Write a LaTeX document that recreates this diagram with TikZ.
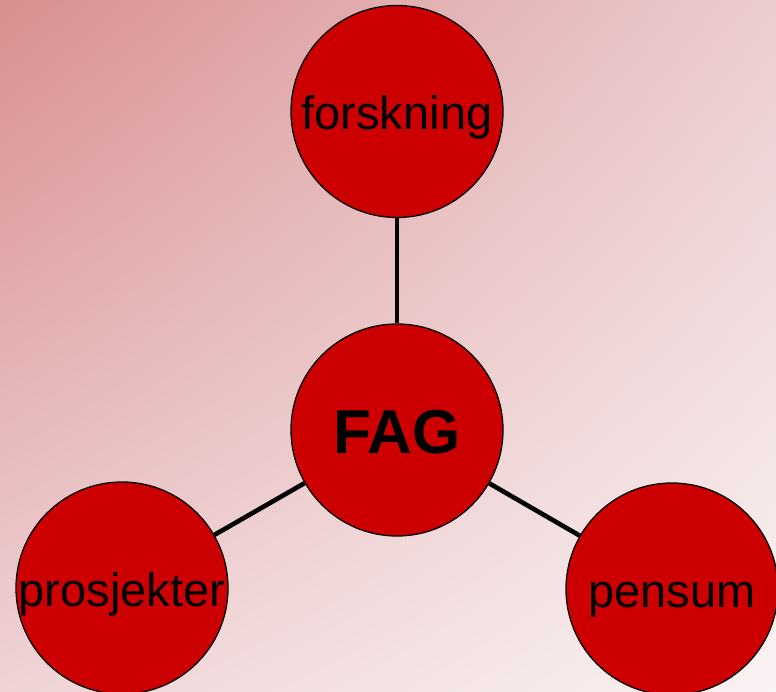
\documentclass[tikz,border=0pt]{standalone}
\usepackage{fontspec}
\setmainfont{Liberation Sans}
\usetikzlibrary{shadings}
\begin{document}
\begin{tikzpicture}[x=1pt,y=-1pt,
  topic/.style={circle,draw=black,line width=1.3pt,fill=nodered,minimum size=212pt,inner sep=0pt,text=black,font=\fontsize{47}{47}\selectfont,text height=36pt,text depth=0pt},
  hub/.style={topic,font=\fontsize{62}{62}\selectfont\bfseries,text height=46pt},
  link/.style={line width=4.6pt,draw=black}]
\definecolor{nodered}{HTML}{CC0000}
\definecolor{bgtl}{HTML}{D98E8F}
\definecolor{bgbr}{HTML}{FAF3F3}
\definecolor{bgtr}{HTML}{EBCDCF}
\definecolor{bgbl}{HTML}{EFD3D5}
\useasboundingbox (0,0) rectangle (776,692);
\shade[upper left=bgtl,lower right=bgbr,upper right=bgtr,lower left=bgbl] (0,0) rectangle (776,692);
\node[hub] (fag) at (397,430) {FAG};
\node[topic] (fors) at (397,111.5) {forskning};
\node[topic] (pros) at (122,588) {prosjekter};
\node[topic] (pens) at (672,589) {pensum};
\draw[link] (fag) -- (fors);
\draw[link] (fag) -- (pros);
\draw[link] (fag) -- (pens);
\end{tikzpicture}
\end{document}
